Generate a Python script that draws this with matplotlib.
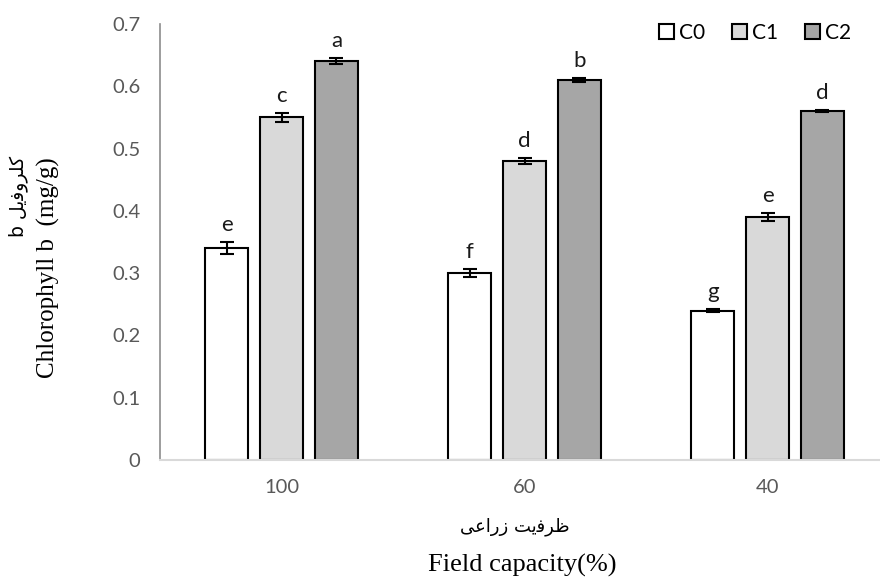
import matplotlib
matplotlib.use("Agg")
import matplotlib.pyplot as plt
import numpy as np

categories = ["100", "60", "40"]
series = ["C0", "C1", "C2"]
values = {
    "C0": [0.34, 0.30, 0.24],
    "C1": [0.55, 0.48, 0.39],
    "C2": [0.64, 0.61, 0.56],
}
errors = {
    "C0": [0.010, 0.006, 0.003],
    "C1": [0.007, 0.005, 0.006],
    "C2": [0.005, 0.003, 0.002],
}
letters = {
    "C0": ["e", "f", "g"],
    "C1": ["c", "d", "e"],
    "C2": ["a", "b", "d"],
}
colors = {"C0": "#ffffff", "C1": "#d9d9d9", "C2": "#a6a6a6"}

# Persian labels written in shaped presentation forms, visual order
ylabel_fa = "b \uFEDE\uFBFE\uFED3\uFEED\uFEAE\uFEE0\uFB90"
xlabel_fa = "\uFBFD\uFECB\uFE8D\uFEAD\uFEAF \uFE96\uFBFE\uFED3\uFEAE\uFEC7"

sans = ["Lato", "DejaVu Sans"]
serif = ["Liberation Serif", "DejaVu Serif"]

fig = plt.figure(figsize=(8.8, 5.78), dpi=100)
ax = fig.add_axes([160 / 880, 118 / 578, 729 / 880, 436 / 578])

x = np.arange(len(categories))
width = 0.177
step = 0.226

for i, s in enumerate(series):
    pos = x + (i - 1) * step
    ax.bar(pos, values[s], width, color=colors[s], edgecolor="black",
           linewidth=1.5, label=s, zorder=2)
    ax.errorbar(pos, values[s], yerr=errors[s], fmt="none", ecolor="black",
                elinewidth=1.5, capsize=5, capthick=1.5, zorder=3)
    for p, v, e, t in zip(pos, values[s], errors[s], letters[s]):
        ax.annotate(t, (p, v + e), xytext=(0, 5), textcoords="offset points",
                    ha="center", va="bottom", fontsize=16, family=sans,
                    color="#1a1a1a")

ax.set_xlim(-0.5, 2.5)
ax.set_ylim(0, 0.7)
ax.set_yticks(np.arange(0, 0.71, 0.1))
ax.set_yticklabels(["0"] + [f"{v:.1f}" for v in np.arange(0.1, 0.71, 0.1)])
ax.set_xticks(x)
ax.set_xticklabels(categories)
ax.tick_params(axis="both", length=0, labelsize=14.5, labelcolor="#595959")
ax.tick_params(axis="y", pad=14)
ax.tick_params(axis="x", pad=14)
for lab in ax.get_xticklabels() + ax.get_yticklabels():
    lab.set_family(sans)

ax.spines["top"].set_visible(False)
ax.spines["right"].set_visible(False)
ax.spines["left"].set_color("#8c8c8c")
ax.spines["left"].set_linewidth(1.2)
ax.spines["bottom"].set_color("#d9d9d9")
ax.spines["bottom"].set_linewidth(1.5)

fig.text(48 / 880, 1 - 268 / 578, "Chlorophyll b  (mg/g)", rotation=90,
         ha="center", va="center", fontsize=18, family=serif)
fig.text(18 / 880, 1 - 196 / 578, ylabel_fa, rotation=90,
         ha="center", va="center", fontsize=13.5, family=["DejaVu Sans"])
fig.text(515 / 880, 1 - 527 / 578, xlabel_fa, ha="center", va="center",
         fontsize=13, family=["DejaVu Sans"])
fig.text(522 / 880, 1 - 565 / 578, "Field capacity(%)", ha="center",
         va="center", fontsize=19, family=serif)

leg = fig.legend(loc="upper right", bbox_to_anchor=(870 / 880, 1 - 4 / 578),
                 ncol=3, frameon=False, handlelength=0.7, handleheight=0.7,
                 handletextpad=0.25, columnspacing=1.3,
                 prop={"family": sans, "size": 15})

fig.savefig("out.png", dpi=100)
